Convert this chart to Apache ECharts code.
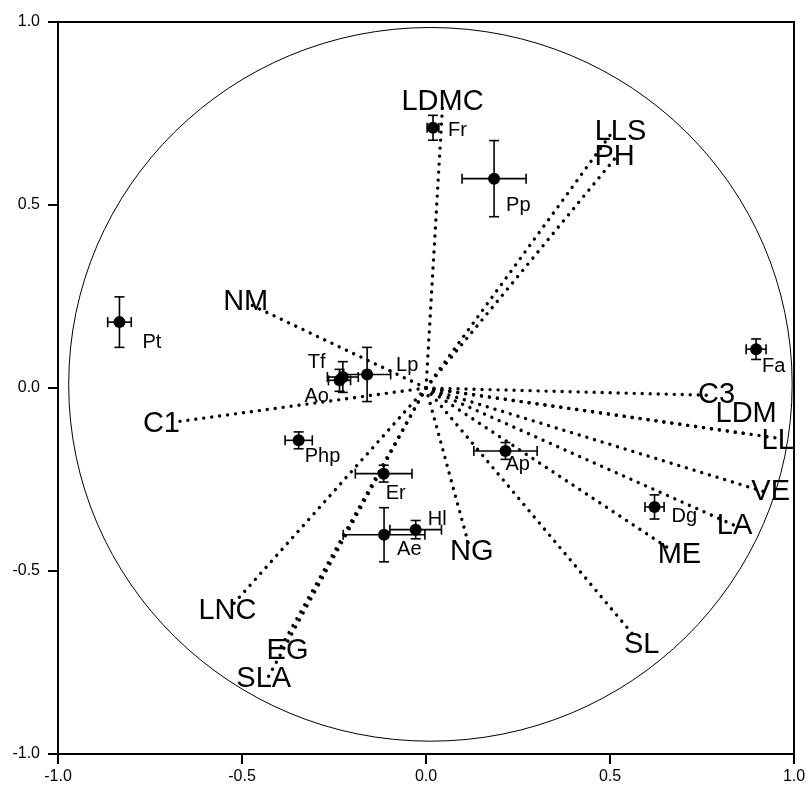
<!DOCTYPE html>
<html><head><meta charset="utf-8">
<script src="https://cdn.jsdelivr.net/npm/echarts@6/dist/echarts.min.js"></script>
<style>html,body{margin:0;padding:0;background:#fff}#c{width:809px;height:791px}</style>
</head><body><div id="c"></div>
<script>
// ---- data ----
const traitNames = ['LDMC','LLS','PH','NM','C1','LNC','EG','SLA','NG','SL','ME','LA','VE','LL','LDM','C3'];
const traitX = [0.045, 0.504, 0.518, -0.490, -0.689, -0.534, -0.398, -0.430, 0.119, 0.567, 0.667, 0.844, 0.934, 0.961, 0.870, 0.776];
const traitY = [0.773, 0.696, 0.633, 0.234, -0.094, -0.602, -0.715, -0.792, -0.439, -0.679, -0.443, -0.378, -0.288, -0.138, -0.125, -0.020];

const speciesNames = ['Fr','Pp','Fa','Pt','Lp','Tf','Ao','Php','Er','Ae','Hl','Ap','Dg'];
const speciesX = [0.019, 0.185, 0.897, -0.833, -0.160, -0.226, -0.235, -0.346, -0.115, -0.114, -0.028, 0.216, 0.621];
const speciesY = [0.711, 0.572, 0.106, 0.180, 0.037, 0.030, 0.021, -0.143, -0.234, -0.401, -0.387, -0.172, -0.325];
const speciesXErr = [0.016, 0.087, 0.027, 0.032, 0.064, 0.042, 0.030, 0.037, 0.077, 0.111, 0.070, 0.086, 0.026];
const speciesYErr = [0.034, 0.104, 0.028, 0.069, 0.074, 0.042, 0.030, 0.023, 0.023, 0.074, 0.025, 0.023, 0.033];

const tickValues = [-1.0, -0.5, 0.0, 0.5, 1.0];
const tickLabels = ['-1.0', '-0.5', '0.0', '0.5', '1.0'];

const circleSpec = [0.012, 0.010, 0.983, 0.975]; // cx, cy, rx, ry (data units)

// ---- styling (label offsets in px) ----
const traitLabelOffset = {
  LDMC:[0,-3], LLS:[9,-1], PH:[-2,1], NM:[0,0], C1:[-11,2], LNC:[-2,3], EG:[8,1], SLA:[-4,1],
  NG:[2,3], SL:[7,8], ME:[8,5], LA:[-2,0], VE:[1,-1], LL:[-2,2], LDM:[0,-20], C3:[5,0]
};
const speciesLabelOffset = {
  Fr:[15,3], Pp:[12,27], Fa:[6,17], Pt:[23,20], Lp:[29,-9], Tf:[-35,-15], Ao:[-35,16],
  Php:[6,16], Er:[2,20], Ae:[13,15], Hl:[12,-10], Ap:[0,14], Dg:[17,10]
};
const FONT = 'Liberation Sans, Arial, sans-serif';

const traitData = traitNames.map((n,i)=>[traitX[i], traitY[i], n]);
const speciesData = speciesNames.map((n,i)=>[speciesX[i], speciesY[i], speciesXErr[i], speciesYErr[i], n]);

const chart = echarts.init(document.getElementById('c'), null, {renderer:'canvas'});

function axisCommon(isX){
  return {
    type:'value', min:-1, max:1, interval:0.5,
    axisLine:{show:true, onZero:false, lineStyle:{color:'#000', width:2}},
    axisTick:{show:true, inside:false, length:10, lineStyle:{color:'#000', width:2}},
    axisLabel:{show:true, color:'#000', fontSize:16, fontFamily:FONT, margin: isX ? 15 : 18,
      formatter: v => { const k = tickValues.findIndex(t => Math.abs(t - v) < 1e-9); return k >= 0 ? tickLabels[k] : ''; }},
    splitLine:{show:false}
  };
}

chart.setOption({
  animation:false,
  backgroundColor:'#fff',
  grid:{left:58, right:15, top:22, bottom:37, show:true, borderColor:'#000', borderWidth:2, backgroundColor:'transparent'},
  xAxis: axisCommon(true),
  yAxis: axisCommon(false),
  series:[
    { // reference circle
      type:'custom', z:1, silent:true,
      data:[circleSpec],
      renderItem:(params, api)=>{
        const c = api.coord([api.value(0), api.value(1)]);
        const rx = api.size([api.value(2), 0])[0];
        const ry = api.size([0, api.value(3)])[1];
        return {type:'ellipse', shape:{cx:c[0], cy:c[1], rx:rx, ry:ry}, style:{fill:'none', stroke:'#000', lineWidth:1}};
      }
    },
    { // trait vectors
      type:'custom', z:2, silent:true,
      data: traitData,
      renderItem:(params, api)=>{
        const p0 = api.coord([0,0]);
        const p1 = api.coord([api.value(0), api.value(1)]);
        return {type:'line', shape:{x1:p0[0], y1:p0[1], x2:p1[0], y2:p1[1]},
          style:{stroke:'#000', lineWidth:3.4, lineDash:[0.01, 8], lineCap:'round', fill:null}};
      }
    },
    { // error bars
      type:'custom', z:3, silent:true,
      data: speciesData,
      renderItem:(params, api)=>{
        const x = api.value(0), y = api.value(1), ex = api.value(2), ey = api.value(3);
        const l = api.coord([x-ex, y]), r = api.coord([x+ex, y]);
        const t = api.coord([x, y+ey]), b = api.coord([x, y-ey]);
        const cap = 5;
        const st = {stroke:'#000', lineWidth:1.6};
        const ln = (x1,y1,x2,y2)=>({type:'line', shape:{x1,y1,x2,y2}, style:st});
        return {type:'group', children:[
          ln(l[0],l[1],r[0],r[1]),
          ln(t[0],t[1],b[0],b[1]),
          ln(l[0],l[1]-cap,l[0],l[1]+cap),
          ln(r[0],r[1]-cap,r[0],r[1]+cap),
          ln(t[0]-cap,t[1],t[0]+cap,t[1]),
          ln(b[0]-cap,b[1],b[0]+cap,b[1])
        ]};
      }
    },
    { // species means
      type:'scatter', z:4, silent:true,
      data: speciesData.map(d=>[d[0], d[1]]),
      symbol:'circle', symbolSize:12,
      itemStyle:{color:'#000', opacity:1}
    },
    { // species labels
      type:'custom', z:5, silent:true,
      data: speciesData,
      renderItem:(params, api)=>{
        const p = api.coord([api.value(0), api.value(1)]);
        const name = speciesNames[params.dataIndex];
        const o = speciesLabelOffset[name] || [10,10];
        return {type:'text', x:p[0]+o[0], y:p[1]+o[1],
          style:{text:name, fontSize:20, fontFamily:FONT, fill:'#000', align:'left', verticalAlign:'middle'}};
      }
    },
    { // trait labels
      type:'custom', z:5, silent:true,
      data: traitData,
      renderItem:(params, api)=>{
        const p = api.coord([api.value(0), api.value(1)]);
        const name = traitNames[params.dataIndex];
        const o = traitLabelOffset[name] || [0,0];
        return {type:'text', x:p[0]+o[0], y:p[1]+o[1],
          style:{text:name, fontSize:29, fontFamily:FONT, fill:'#000', align:'center', verticalAlign:'middle'}};
      }
    }
  ]
});
</script>
</body></html>
